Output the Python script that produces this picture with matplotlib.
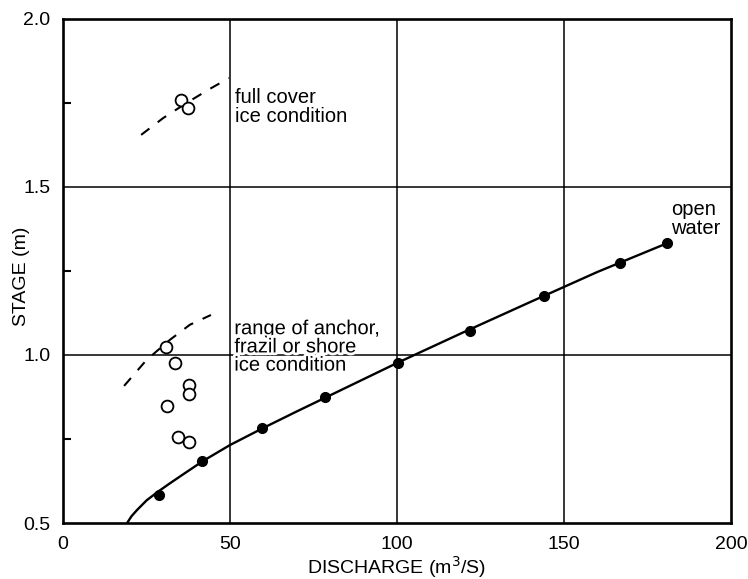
import matplotlib.pyplot as plt
import matplotlib.patheffects as pe

plt.rcParams['font.family'] = ['Liberation Sans', 'DejaVu Sans']

# open water rating points (filled dots)
open_q = [28.7, 41.6, 59.6, 78.4, 100.3, 121.9, 144.0, 166.8, 181.0]
open_h = [0.583, 0.685, 0.783, 0.875, 0.976, 1.071, 1.176, 1.274, 1.333]

# fitted rating curve
curve_q = [19.2, 20.5, 22.2, 25.1, 28.7, 32, 36, 42, 50, 60, 70, 80, 90, 100,
           110, 120, 140, 160, 181]
curve_h = [0.50, 0.52, 0.539, 0.568, 0.595, 0.618, 0.645, 0.685, 0.732, 0.783,
           0.832, 0.88, 0.928, 0.976, 1.022, 1.068, 1.158, 1.247, 1.333]

# anchor / frazil / shore ice points (open circles)
anchor_q = [30.9, 33.5, 37.7, 37.7, 31.1, 34.4, 37.7]
anchor_h = [1.024, 0.976, 0.911, 0.884, 0.848, 0.756, 0.741]
anchor_dash_q = [18.3, 25, 32, 38, 44.3]
anchor_dash_h = [0.908, 0.985, 1.045, 1.09, 1.119]

# full cover ice points
cover_q = [35.3, 37.4]
cover_h = [1.759, 1.735]
cover_dash_q = [23.4, 30, 37, 44, 49.7]
cover_dash_h = [1.655, 1.705, 1.75, 1.792, 1.824]

fig = plt.figure(figsize=(7.48, 5.79), dpi=100)
ax = fig.add_axes([0.0842, 0.0967, 0.8930, 0.8706])

for x in [50, 100, 150]:
    ax.axvline(x, color='black', lw=1.1, zorder=1)
for y in [1.0, 1.5]:
    ax.axhline(y, color='black', lw=1.1, zorder=1)

ax.plot(curve_q, curve_h, color='black', lw=1.7, zorder=3)
ax.plot(open_q, open_h, 'o', color='black', ms=7, zorder=4)

ax.plot(anchor_dash_q, anchor_dash_h, color='black', lw=1.5, ls=(0, (5, 5)), zorder=3)
ax.plot(anchor_q, anchor_h, 'o', mfc='white', mec='black', mew=1.3, ms=8.5, zorder=4)

ax.plot(cover_dash_q, cover_dash_h, color='black', lw=1.5, ls=(0, (5, 5)), zorder=3)
ax.plot(cover_q, cover_h, 'o', mfc='white', mec='black', mew=1.3, ms=8.5, zorder=4)

halo = [pe.withStroke(linewidth=4, foreground='white')]
ax.text(51.5, 1.738, 'full cover\nice condition', fontsize=14.5, va='center', ha='left',
        linespacing=0.95)
ax.text(51.3, 1.024, 'range of anchor,\nfrazil or shore\nice condition', fontsize=14.5,
        va='center', ha='left', linespacing=0.95, path_effects=halo, zorder=5)
ax.text(182, 1.405, 'open\nwater', fontsize=14.5, va='center', ha='left',
        linespacing=0.95)

ax.set_xlim(0, 200)
ax.set_ylim(0.5, 2.0)
ax.set_xticks([0, 50, 100, 150, 200])
ax.set_yticks([0.5, 1.0, 1.5, 2.0])
ax.set_yticklabels(['0.5', '1.0', '1.5', '2.0'])
ax.set_yticks([0.75, 1.25, 1.75], minor=True)
ax.tick_params(axis='both', which='major', length=0, pad=9, labelsize=14)
ax.tick_params(axis='y', which='minor', direction='in', length=6, width=1.5)

for s in ax.spines.values():
    s.set_linewidth(1.9)

ax.set_xlabel('DISCHARGE (m$^3$/S)', fontsize=14, labelpad=1)
ax.set_ylabel('STAGE (m)', fontsize=14)
ax.yaxis.set_label_coords(-0.05, 0.49)

fig.savefig('out.png', dpi=100)
